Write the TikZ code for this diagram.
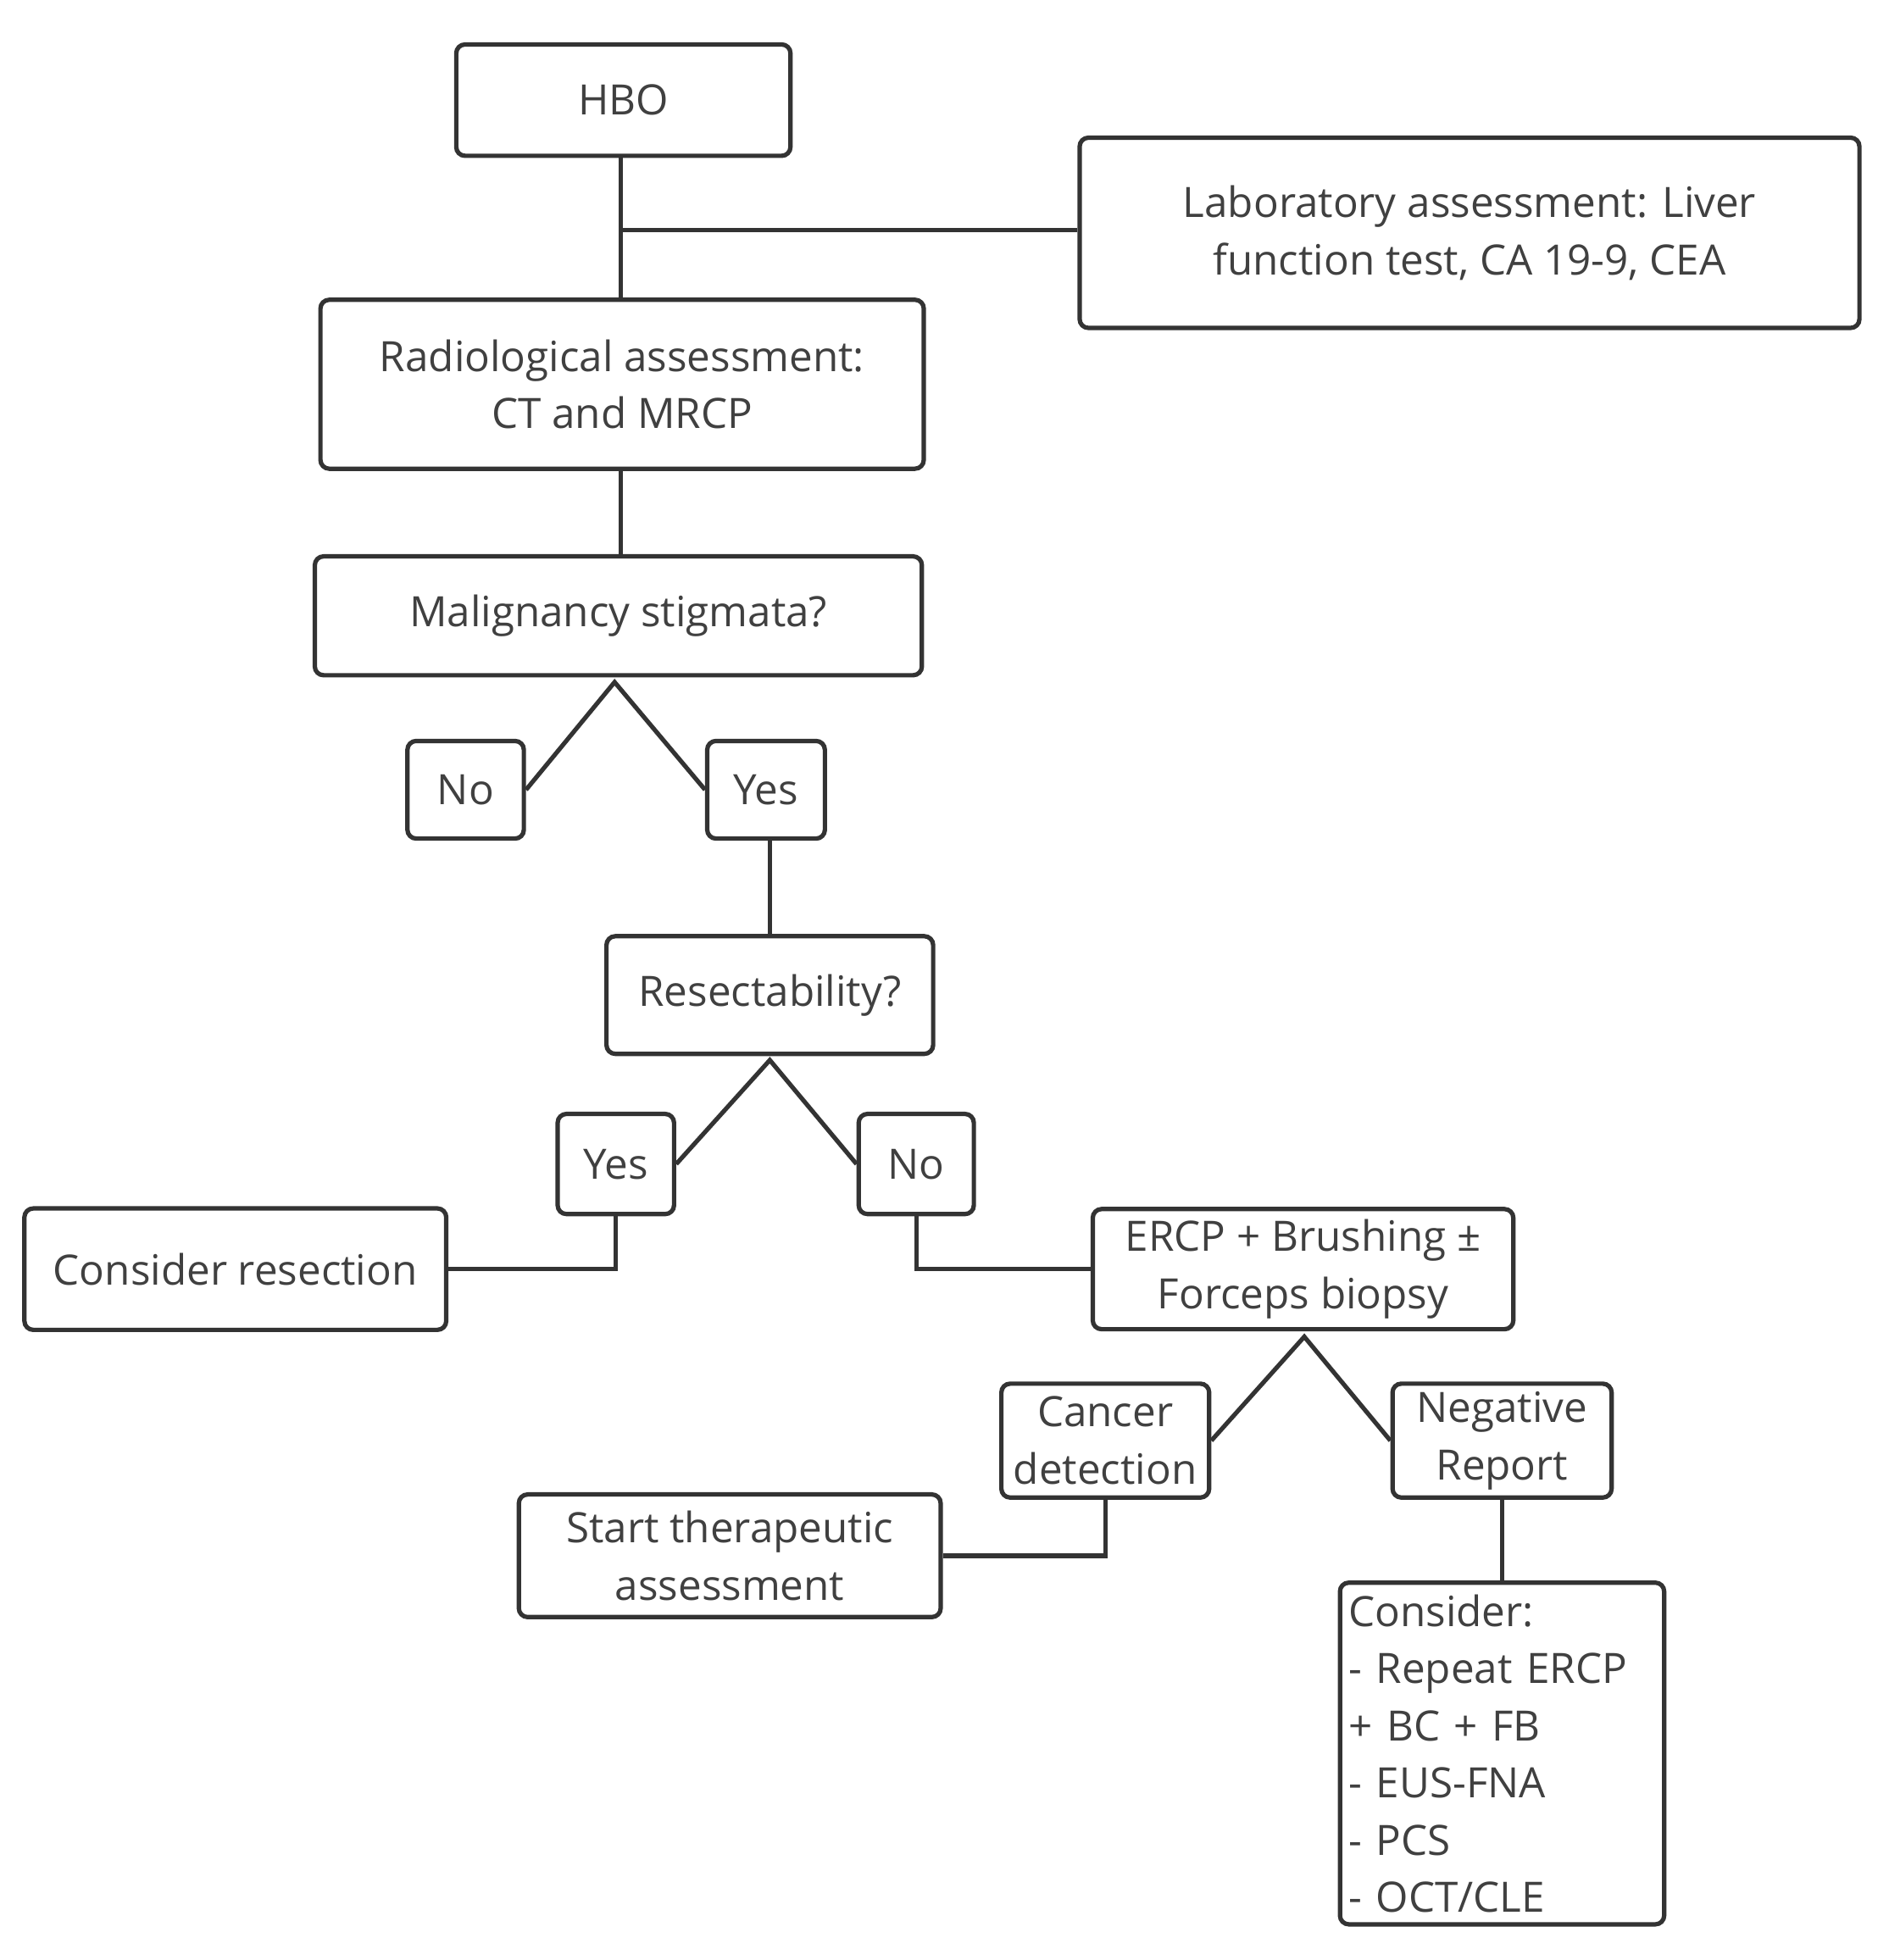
\documentclass[tikz,border=0pt]{standalone}
\usepackage{fontspec}
\setmainfont{Open Sans}
\begin{document}
\begin{tikzpicture}[x=0.01cm,y=-0.01cm,
  bx/.style={draw=black!80,line width=1pt,rounded corners=2pt,inner sep=0pt,font=\fontsize{9.5}{13}\selectfont,text=black!75,align=center},
  ln/.style={draw=black!80,line width=1pt}]
\useasboundingbox (0,0) rectangle (1500,1566);
\newcommand{\bxat}[6]{\node[bx,minimum width=#4-#2,minimum height=#5-#3,#6] (#1) at ({(#2+#4)/2},{(#3+#5)/2}) {};}
\node[bx,minimum width=267*0.01cm,minimum height=89*0.01cm] (hbo) at (498,80) {HBO};
\node[bx,minimum width=623*0.01cm,minimum height=152*0.01cm] (lab) at (1174,186) {Laboratory assessment: Liver\\function test, CA 19-9, CEA};
\node[bx,minimum width=482*0.01cm,minimum height=135*0.01cm] (rad) at (497,307) {Radiological assessment:\\CT and MRCP};
\node[bx,minimum width=485*0.01cm,minimum height=95*0.01cm] (mal) at (494,492) {Malignancy stigmata?};
\node[bx,minimum width=93*0.01cm,minimum height=78*0.01cm] (no1) at (372,631) {No};
\node[bx,minimum width=94*0.01cm,minimum height=78*0.01cm] (yes1) at (612,631) {Yes};
\node[bx,minimum width=261*0.01cm,minimum height=94*0.01cm] (res) at (615,795) {Resectability?};
\node[bx,minimum width=93*0.01cm,minimum height=80*0.01cm] (yes2) at (492,930) {Yes};
\node[bx,minimum width=92*0.01cm,minimum height=80*0.01cm] (no2) at (732,930) {No};
\node[bx,minimum width=337*0.01cm,minimum height=97*0.01cm] (cres) at (188,1014) {Consider resection};
\node[bx,minimum width=336*0.01cm,minimum height=96*0.01cm] (ercp) at (1041,1014) {ERCP + Brushing ±\\Forceps biopsy};
\node[bx,minimum width=166*0.01cm,minimum height=91*0.01cm] (can) at (883,1151) {Cancer\\detection};
\node[bx,minimum width=175*0.01cm,minimum height=91*0.01cm] (neg) at (1200,1151) {Negative\\Report};
\node[bx,minimum width=337*0.01cm,minimum height=98*0.01cm] (start) at (583,1243) {Start therapeutic\\assessment};
\node[bx,minimum width=259*0.01cm,minimum height=273*0.01cm,align=left,text width=245*0.01cm,fill=none] (cons) at (1200,1401) {Consider:\\- Repeat ERCP\\+ BC + FB\\- EUS-FNA\\- PCS\\- OCT/CLE};
\coordinate (j1) at (496,184);
\coordinate (m1) at (491,545);
\coordinate (r1) at (615,847);
\coordinate (e1) at (1042,1068);
\draw[ln] (hbo.south -| j1) -- (rad.north -| j1);
\draw[ln] (j1) -- (lab.west |- j1);
\draw[ln] (rad.south -| j1) -- (mal.north -| j1);
\draw[ln] (no1.east) -- (m1) -- (yes1.west);
\draw[ln] (yes1.south -| res.north) -- (res.north);
\draw[ln] (yes2.east) -- (r1) -- (no2.east -| no2.west);
\draw[ln] (yes2.south) |- (cres.east);
\draw[ln] (no2.south) |- (ercp.west);
\draw[ln] (can.east) -- (e1) -- (neg.west);
\draw[ln] (can.south) |- (start.east);
\draw[ln] (neg.south) -- (cons.north);
\end{tikzpicture}
\end{document}
